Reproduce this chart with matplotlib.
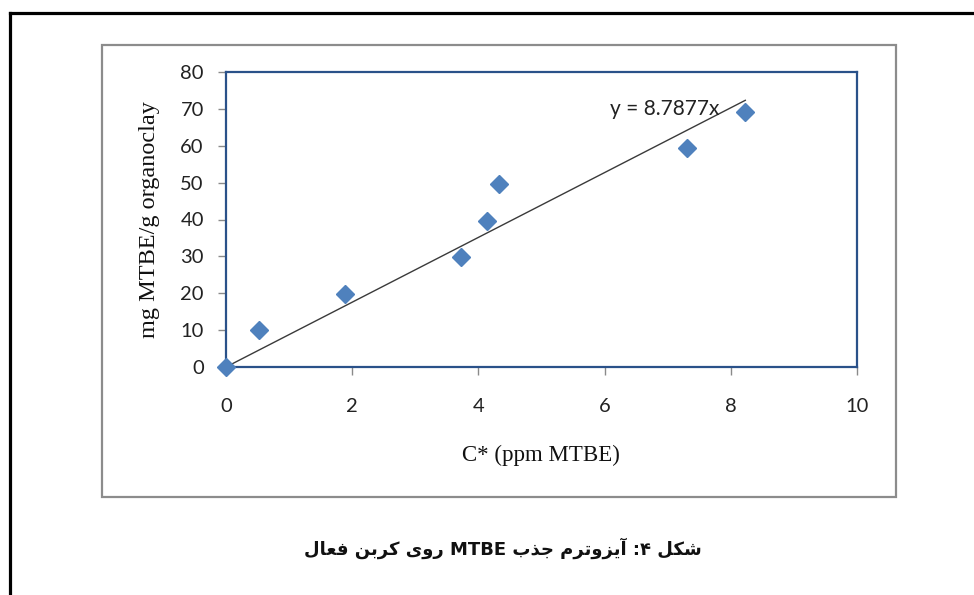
import matplotlib
matplotlib.use("Agg")
import matplotlib.pyplot as plt
from matplotlib.patches import Rectangle
from matplotlib.lines import Line2D
import numpy as np

# ---- data ----
c_star = [0.0, 0.52, 1.88, 3.73, 4.13, 4.33, 7.30, 8.23]
q_vals = [0.0, 10.1, 19.9, 29.7, 39.6, 49.5, 59.3, 69.2]
slope = 8.7877
x_ticks = [0, 2, 4, 6, 8, 10]
y_ticks = [0, 10, 20, 30, 40, 50, 60, 70, 80]
x_label = "C* (ppm MTBE)"
y_label = "mg MTBE/g organoclay"
eq_label = "y = 8.7877x"
caption_words = ["شکل", "۴:", "آیزوترم", "جذب", "MTBE", "روی", "کربن", "فعال"]

# ---- minimal Arabic/Persian shaping (presentation forms) ----
FORMS = {
    '\u0627': ('\uFE8D', '\uFE8E', None, None),
    '\u0622': ('\uFE81', '\uFE82', None, None),
    '\u0628': ('\uFE8F', '\uFE90', '\uFE91', '\uFE92'),
    '\u062A': ('\uFE95', '\uFE96', '\uFE97', '\uFE98'),
    '\u062C': ('\uFE9D', '\uFE9E', '\uFE9F', '\uFEA0'),
    '\u0630': ('\uFEAB', '\uFEAC', None, None),
    '\u0631': ('\uFEAD', '\uFEAE', None, None),
    '\u0632': ('\uFEAF', '\uFEB0', None, None),
    '\u0634': ('\uFEB5', '\uFEB6', '\uFEB7', '\uFEB8'),
    '\u0639': ('\uFEC9', '\uFECA', '\uFECB', '\uFECC'),
    '\u0641': ('\uFED1', '\uFED2', '\uFED3', '\uFED4'),
    '\u0644': ('\uFEDD', '\uFEDE', '\uFEDF', '\uFEE0'),
    '\u0645': ('\uFEE1', '\uFEE2', '\uFEE3', '\uFEE4'),
    '\u0646': ('\uFEE5', '\uFEE6', '\uFEE7', '\uFEE8'),
    '\u0648': ('\uFEED', '\uFEEE', None, None),
    '\u06A9': ('\uFB8E', '\uFB8F', '\uFB90', '\uFB91'),
    '\u06CC': ('\uFBFC', '\uFBFD', '\uFBFE', '\uFBFF'),
}


def shape_word(w):
    if not any(ch in FORMS for ch in w):
        if any(ch in '۰۱۲۳۴۵۶۷۸۹' for ch in w):
            return w[::-1]
        return w
    out = []
    for i, ch in enumerate(w):
        if ch not in FORMS:
            out.append(ch)
            continue
        prev = w[i - 1] if i > 0 else None
        nxt = w[i + 1] if i + 1 < len(w) else None
        jp = prev in FORMS and FORMS[prev][2] is not None
        jn = FORMS[ch][2] is not None and nxt in FORMS
        iso, fin, ini, med = FORMS[ch]
        out.append(med if (jp and jn) else fin if jp else ini if jn else iso)
    return ''.join(reversed(out))


caption_visual = ' '.join(shape_word(w) for w in reversed(caption_words))

# ---- figure ----
W, H = 974, 595
fig = plt.figure(figsize=(W / 100, H / 100), dpi=100)
fig.patch.set_facecolor('white')

def fx(px):
    return px / W

def fy(py):
    return 1 - py / H

# outer black frame (left + top)
fig.add_artist(Line2D([fx(9.5), fx(9.5)], [fy(12.5), fy(600)], color='black', lw=2.3, transform=fig.transFigure))
fig.add_artist(Line2D([fx(9.5), fx(980)], [fy(12.5), fy(12.5)], color='black', lw=2.3, transform=fig.transFigure))

# chart area gray box
fig.add_artist(Rectangle((fx(102), fy(497)), fx(896) - fx(102), fy(45) - fy(497),
                         fill=False, edgecolor='#8c8c8c', lw=1.6, transform=fig.transFigure))

ax = fig.add_axes([fx(226), fy(367), fx(857) - fx(226), fy(72) - fy(367)])
ax.set_xlim(0, 10)
ax.set_ylim(0, 80)
ax.set_xticks(x_ticks)
ax.set_yticks(y_ticks)
for s in ax.spines.values():
    s.set_color('#2a5189')
    s.set_linewidth(1.6)
ax.tick_params(axis='both', direction='out', color='#8a8a8a', length=6, width=1.0,
               labelsize=14.5, labelcolor='#222222')
ax.tick_params(axis='y', pad=10)
ax.tick_params(axis='x', pad=16)
for lab in ax.get_xticklabels() + ax.get_yticklabels():
    lab.set_family('Lato')

# trendline
xt = np.array([0, max(c_star)])
ax.plot(xt, slope * xt, color='#3a3a3a', lw=1.0, zorder=2)
# points
ax.plot(c_star, q_vals, linestyle='none', marker='D', markersize=8.8,
        color='#4f81bd', markeredgecolor='#4f81bd', clip_on=False, zorder=3)

ax.text(6.08, 70, eq_label, ha='left', va='center', fontsize=15, family='Lato', color='#222222')

fig.text(fx(541), fy(455), x_label, ha='center', va='center', fontsize=16.5,
         family='Liberation Serif', color='#111111')
fig.text(fx(150), fy(220), y_label, ha='center', va='center', rotation=90, fontsize=17.5,
         family='Liberation Serif', color='#111111')

fig.text(fx(503), fy(548), caption_visual, ha='center', va='center', fontsize=13,
         family=['DejaVu Sans'], fontweight='bold', color='#111111')

fig.savefig('out.png', dpi=100)
